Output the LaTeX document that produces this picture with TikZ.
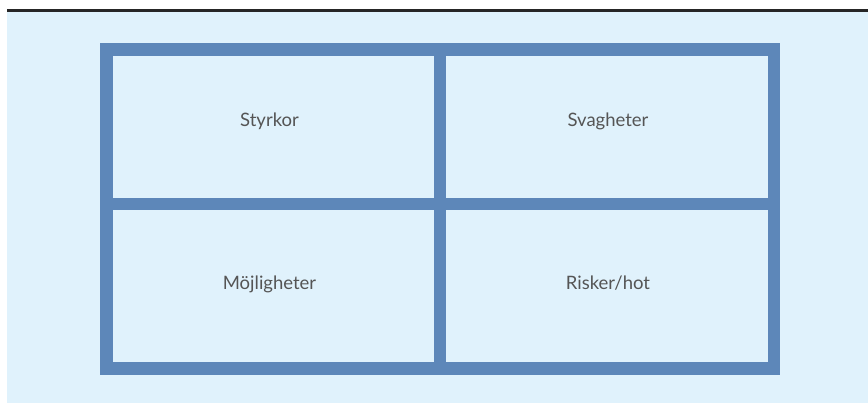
\documentclass[tikz,border=0pt]{standalone}
\usepackage{fontspec}
\setmainfont{Lato}
\usepackage{tikz}
\definecolor{bgblue}{HTML}{E0F2FC}
\definecolor{frameblue}{HTML}{5D87B9}
\definecolor{textgray}{HTML}{555555}

\begin{document}
\begin{tikzpicture}[line cap=butt,line join=miter,x=1pt,y=1pt,
    frame/.style={line width=12.5pt,draw=frameblue},
    cell/.style={anchor=base,inner sep=0pt,font=\fontsize{18.5}{21}\selectfont,text=textgray}]
    \useasboundingbox (0,0) rectangle (868,403);
    \fill [bgblue] (7,0) rectangle (868,392);
    \draw [line width=2.4pt,draw=black!85] (7,392.3)-- (868,392.3);
    % frame and cross
    \draw [frame] (106.5,34.5) rectangle (774.2,353.7);
    \draw [frame] (440.2,34.5)-- (440.2,353.7);
    \draw [frame] (106.5,199)-- (774.2,199);
    % labels
    \draw (269.5,276) node[cell] (styrkor) {Styrkor};
    \draw (608,276) node[cell] (svagheter) {Svagheter};
    \draw (269.5,113) node[cell] (mojligheter) {Möjligheter};
    \draw (608,113) node[cell] (risker) {Risker/hot};
\end{tikzpicture}
\end{document}
